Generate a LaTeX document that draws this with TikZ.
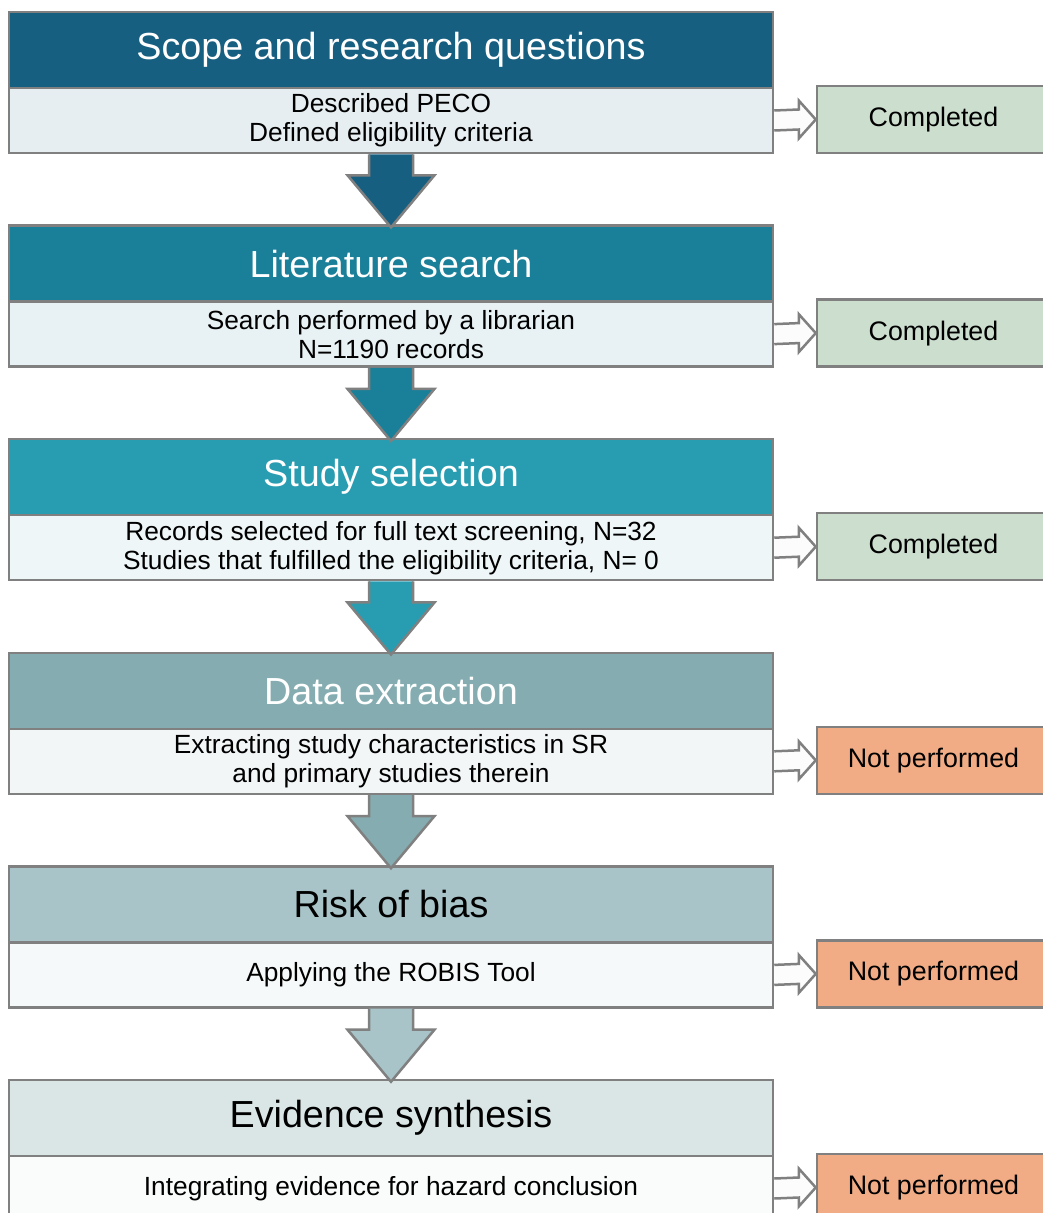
\documentclass[tikz,border=0pt]{standalone}
\usepackage{fontspec}
\setmainfont{Liberation Sans}
\usetikzlibrary{calc}
\definecolor{edge}{HTML}{808080}
\definecolor{hA}{HTML}{175F80}
\definecolor{hB}{HTML}{1A7F98}
\definecolor{hC}{HTML}{289DB1}
\definecolor{hD}{HTML}{85ADB1}
\definecolor{hE}{HTML}{A8C4C8}
\definecolor{hF}{HTML}{DAE6E6}
\definecolor{sA}{HTML}{E6EEF2}
\definecolor{sB}{HTML}{E8F1F4}
\definecolor{sC}{HTML}{EEF6F8}
\definecolor{sD}{HTML}{F2F6F7}
\definecolor{sE}{HTML}{F6F9F9}
\definecolor{sF}{HTML}{FAFCFC}
\definecolor{done}{HTML}{CCDECE}
\definecolor{notdone}{HTML}{F1AC86}
\definecolor{arrw}{HTML}{FCFCFC}
\tikzset{
  box/.style={draw=edge, line width=2.5pt, rectangle, inner sep=0pt, align=center},
  hdr/.style={box, minimum width=764pt, minimum height=76pt, font=\fontsize{37.7}{42}\selectfont},
  sub/.style={box, minimum width=764pt, minimum height=65pt, font=\fontsize{26.3}{29}\selectfont},
  side/.style={box, minimum width=233pt, minimum height=67pt, font=\fontsize{26.8}{30}\selectfont},
  blockarrow/.style={draw=edge, line width=2.5pt, line join=miter},
}
\newcommand\mystage[9]{%
  \pgfmathsetmacro\tt{12+213.6*(#1-1)}%
  \node[hdr, fill=#4, text=#6] (h#1) at (391,\tt+38) {#2};
  \node[sub, fill=#5] (s#1) at (391,\tt+108.5) {#3};
  \node[side, fill=#8] (r#1) at (933.5,\tt+107.5) {#7};
  \filldraw[blockarrow, fill=arrw]
    ($(s#1.east)+(0,-10)$) -- ($(r#1.west)+(-17,-10)$) -- ($(r#1.west)+(-17,-19)$)
    -- (r#1.west) -- ($(r#1.west)+(-17,19)$) -- ($(r#1.west)+(-17,10)$)
    -- ($(s#1.east)+(0,10)$);
}
\newcommand\mydown[3]{%
  \filldraw[blockarrow, fill=#3]
    ($(s#1.south)+(-22,0)$) -- ($(s#1.south)+(-22,21)$) -- ($(s#1.south)+(-43.5,21)$)
    -- ($(h#2.north)+(0,3)$) -- ($(s#1.south)+(43.5,21)$) -- ($(s#1.south)+(22,21)$)
    -- ($(s#1.south)+(22,0)$);
}
\begin{document}
\begin{tikzpicture}[x=1pt,y=-1pt]
\useasboundingbox (0,0) rectangle (1043,1213);
\fill[white] (0,0) rectangle (1043,1213);
\mystage{1}{Scope and research questions}{Described PECO\\Defined eligibility criteria}{hA}{sA}{white}{Completed}{done}{}
\mystage{2}{Literature search}{Search performed by a librarian\\N=1190 records}{hB}{sB}{white}{Completed}{done}{}
\mystage{3}{Study selection}{Records selected for full text screening, N=32\\Studies that fulfilled the eligibility criteria, N= 0}{hC}{sC}{white}{Completed}{done}{}
\mystage{4}{Data extraction}{Extracting study characteristics in SR\\and primary studies therein}{hD}{sD}{white}{Not performed}{notdone}{}
\mystage{5}{Risk of bias}{Applying the ROBIS Tool}{hE}{sE}{black}{Not performed}{notdone}{}
\mystage{6}{Evidence synthesis}{Integrating evidence for hazard conclusion}{hF}{sF}{black}{Not performed}{notdone}{}
\mydown{1}{2}{hA}
\mydown{2}{3}{hB}
\mydown{3}{4}{hC}
\mydown{4}{5}{hD}
\mydown{5}{6}{hE}
\end{tikzpicture}
\end{document}
